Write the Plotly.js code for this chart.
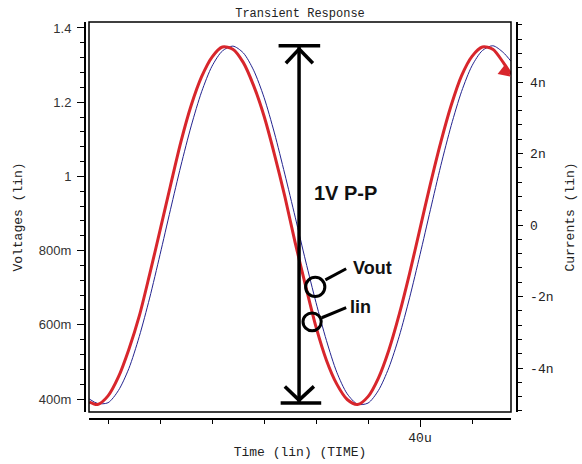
<!DOCTYPE html>
<html>
<head>
<meta charset="utf-8">
<script src="https://cdn.plot.ly/plotly-3.0.1.min.js"></script>
<style>
html,body{margin:0;padding:0;background:#fff;}
#chart{width:582px;height:464px;}
</style>
</head>
<body>
<div id="chart"></div>
<script>
// Time in microseconds
var timeUs = [8.2, 9, 10, 11, 12, 13, 14, 15, 16, 17, 18, 19, 20, 21, 22, 23, 24, 25, 26, 27, 28, 29, 30, 31, 32, 33, 34, 35, 36, 37, 38, 39, 40, 41, 42, 43, 44, 45, 46, 47, 48, 48.75];
// Iin current in nA (right axis)
var iinNa = [-4.95, -5.02, -4.78, -4.25, -3.48, -2.55, -1.38, -0.15, 1.10, 2.32, 3.35, 4.15, 4.70, 4.98, 4.92, 4.55, 3.90, 3.05, 1.98, 0.80, -0.50, -1.70, -2.85, -3.78, -4.45, -4.88, -5.02, -4.80, -4.28, -3.50, -2.50, -1.35, -0.10, 1.15, 2.32, 3.35, 4.18, 4.72, 4.98, 4.92, 4.55, 4.22];
// Vout voltage in V (left axis)
var voutV = [0.400, 0.388, 0.390, 0.423, 0.482, 0.568, 0.672, 0.789, 0.910, 1.028, 1.136, 1.228, 1.297, 1.338, 1.351, 1.333, 1.286, 1.213, 1.117, 1.006, 0.890, 0.772, 0.660, 0.558, 0.472, 0.414, 0.386, 0.389, 0.423, 0.484, 0.569, 0.673, 0.789, 0.910, 1.029, 1.137, 1.229, 1.298, 1.339, 1.352, 1.334, 1.310];

var voltTickVals = [0.4, 0.6, 0.8, 1.0, 1.2, 1.4];
var voltTickText = ['400m', '600m', '800m', '1', '1.2', '1.4'];
var currTickVals = [-4, -2, 0, 2, 4];
var currTickText = ['-4n', '-2n', '0', '2n', '4n'];
var timeTickVals = [40];
var timeTickText = ['40u'];

var monoFont = 'Liberation Mono, DejaVu Sans Mono, monospace';
var sansFont = 'Liberation Sans, Arial, sans-serif';

var traces = [
  {x: timeUs, y: iinNa, yaxis: 'y2', type: 'scatter', mode: 'lines', name: 'Iin',
   line: {color: '#d8262c', width: 3, shape: 'spline', smoothing: 0.8}, hoverinfo: 'skip'},
  {x: timeUs, y: voutV, yaxis: 'y', type: 'scatter', mode: 'lines', name: 'Vout',
   line: {color: '#23238f', width: 1, shape: 'spline', smoothing: 0.8}, hoverinfo: 'skip'}
];

// decoration geometry (in data units)
var ax = 28.37, vTop = 1.352, vBot = 0.389;
var blk = {color: '#000', width: 3.5};
var shapes = [
  {type: 'rect', xref: 'x domain', yref: 'y domain', x0: 0, x1: 1, y0: 0, y1: 1, line: {color: '#000', width: 1.5}},
  {type: 'line', xref: 'x', yref: 'y', x0: ax, x1: ax, y0: vTop, y1: vBot, line: blk},
  {type: 'line', xref: 'x', yref: 'y', x0: 26.4, x1: 30.4, y0: vTop, y1: vTop, line: blk},
  {type: 'line', xref: 'x', yref: 'y', x0: 26.6, x1: 30.5, y0: vBot, y1: vBot, line: blk},
  {type: 'line', xref: 'x', yref: 'y', x0: ax, x1: 27.1, y0: 1.343, y1: 1.305, line: blk},
  {type: 'line', xref: 'x', yref: 'y', x0: ax, x1: 29.7, y0: 1.343, y1: 1.305, line: blk},
  {type: 'line', xref: 'x', yref: 'y', x0: ax, x1: 27.0, y0: 0.397, y1: 0.434, line: blk},
  {type: 'line', xref: 'x', yref: 'y', x0: ax, x1: 29.8, y0: 0.397, y1: 0.434, line: blk},
  {type: 'circle', xref: 'x', yref: 'y', x0: 29.0, x1: 30.85, y0: 0.676, y1: 0.728, line: {color: '#000', width: 3}},
  {type: 'circle', xref: 'x', yref: 'y', x0: 28.75, x1: 30.5, y0: 0.584, y1: 0.632, line: {color: '#000', width: 3}},
  {type: 'line', xref: 'x', yref: 'y', x0: 30.9, x1: 32.9, y0: 0.721, y1: 0.751, line: {color: '#000', width: 3}},
  {type: 'line', xref: 'x', yref: 'y', x0: 30.55, x1: 32.9, y0: 0.619, y1: 0.646, line: {color: '#000', width: 3}}
];

var annotations = [
  {x: 29.6, y: 0.955, xref: 'x', yref: 'y', text: '1V P-P', showarrow: false, xanchor: 'left', yanchor: 'middle',
   font: {family: sansFont, size: 20, color: '#111', weight: 'bold'}},
  {x: 33.35, y: 0.753, xref: 'x', yref: 'y', text: 'Vout', showarrow: false, xanchor: 'left', yanchor: 'middle',
   font: {family: sansFont, size: 18, color: '#111', weight: 'bold'}},
  {x: 33.05, y: 0.648, xref: 'x', yref: 'y', text: 'Iin', showarrow: false, xanchor: 'left', yanchor: 'middle',
   font: {family: sansFont, size: 18, color: '#111', weight: 'bold'}},
  {x: 48.72, y: 4.15, xref: 'x', yref: 'y2', ax: -5, ay: -4, text: '', showarrow: true,
   arrowhead: 2, arrowsize: 1.2, arrowwidth: 2, arrowcolor: '#d8262c'}
];

var layout = {
  width: 582, height: 464,
  paper_bgcolor: '#fff', plot_bgcolor: '#fff',
  showlegend: false,
  margin: {l: 84, r: 66, t: 22, b: 46},
  title: {text: 'Transient Response', x: 0.5, xref: 'paper', xanchor: 'center', y: 1 - 13 / 464, yref: 'container', yanchor: 'middle',
          font: {family: monoFont, size: 12, color: '#222'}},
  xaxis: {
    domain: [5 / 432, 427 / 432], range: [8.17, 48.75], anchor: 'free', position: 0,
    showline: true, linecolor: '#000', linewidth: 1.5, showgrid: false, zeroline: false,
    ticks: 'outside', ticklen: 7, tickwidth: 1, tickcolor: '#000',
    tickmode: 'array', tickvals: timeTickVals, ticktext: timeTickText,
    minor: {tick0: 0, dtick: 5, ticks: 'outside', ticklen: 4, tickwidth: 1, tickcolor: '#000', showgrid: false},
    tickfont: {family: monoFont, size: 13, color: '#222'},
    title: {text: 'Time (lin) (TIME)', font: {family: monoFont, size: 13, color: '#222'}, standoff: 2}
  },
  yaxis: {
    domain: [6 / 396, 1], range: [0.365, 1.416], anchor: 'free', position: 0,
    showline: true, linecolor: '#000', linewidth: 1.5, showgrid: false, zeroline: false,
    ticks: 'outside', ticklen: 7, tickwidth: 1, tickcolor: '#000',
    tickmode: 'array', tickvals: voltTickVals, ticktext: voltTickText,
    minor: {tick0: 0, dtick: 0.04, ticks: 'outside', ticklen: 4, tickwidth: 1, tickcolor: '#000', showgrid: false},
    ticklabelstandoff: 3,
    tickfont: {family: sansFont, size: 13, color: '#333'},
    title: {text: 'Voltages (lin)', font: {family: monoFont, size: 13, color: '#222'}, standoff: 12}
  },
  yaxis2: {
    overlaying: 'y', side: 'right', range: [-5.23, 5.68], anchor: 'free', position: 1,
    showline: true, linecolor: '#000', linewidth: 1.5, showgrid: false, zeroline: false,
    ticks: 'outside', ticklen: 5, tickwidth: 1, tickcolor: '#000',
    tickmode: 'array', tickvals: currTickVals, ticktext: currTickText,
    minor: {tick0: 0, dtick: 0.4, ticks: 'outside', ticklen: 4, tickwidth: 1, tickcolor: '#000', showgrid: false},
    ticklabelstandoff: 5,
    tickfont: {family: monoFont, size: 13, color: '#222'},
    title: {text: 'Currents (lin)', font: {family: monoFont, size: 13, color: '#222'}, standoff: 12}
  },
  shapes: shapes,
  annotations: annotations
};

Plotly.newPlot('chart', traces, layout, {staticPlot: true, displayModeBar: false});
</script>
</body>
</html>
